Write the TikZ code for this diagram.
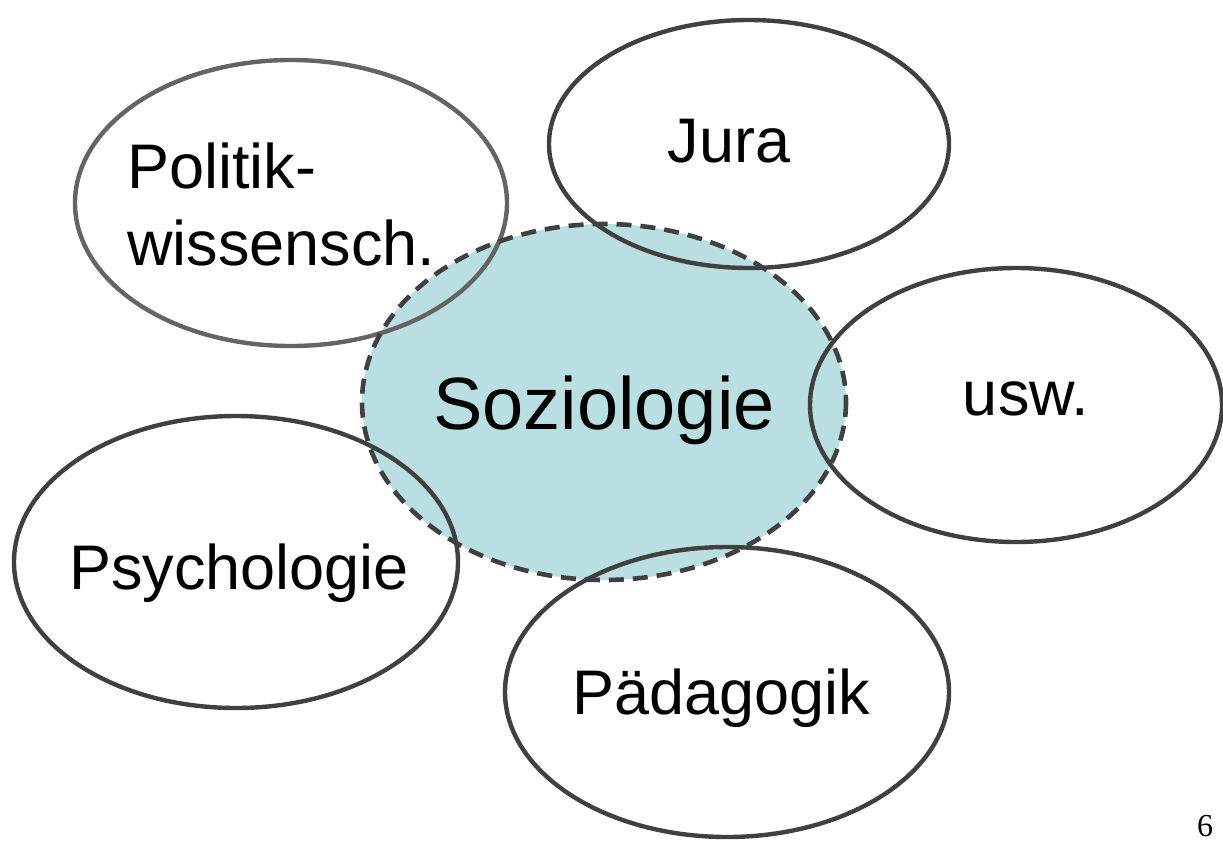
\documentclass[tikz,border=0pt]{standalone}
\usepackage{fontspec}
\setmainfont{Liberation Sans}
\newfontfamily\numfont{Liberation Serif}
\definecolor{soziofill}{HTML}{BADFE3}
\definecolor{edgedark}{HTML}{404040}
\definecolor{edgegray}{HTML}{646464}
\tikzset{
  field/.style={draw=edgedark, line width=4.4pt},
  fieldgray/.style={draw=edgegray, line width=4.4pt},
  center/.style={draw=edgedark, line width=4.6pt, dash pattern=on 15pt off 9pt},
  lbl/.style={inner sep=0pt, font=\fontsize{63}{77}\selectfont},
  biglbl/.style={inner sep=0pt, font=\fontsize{74}{88}\selectfont}
}
\begin{document}
\begin{tikzpicture}[x=1pt,y=-1pt]
\useasboundingbox (0,0) rectangle (1223,841);
% central fill
\fill[soziofill] (604,402) ellipse [x radius=242, y radius=178];
% outer fields
\draw[fieldgray] (291,203) ellipse [x radius=216, y radius=143];
\draw[field] (749,144) ellipse [x radius=200, y radius=124];
\draw[field] (1016,405) ellipse [x radius=206, y radius=137];
\draw[field] (236,562) ellipse [x radius=222, y radius=146];
\draw[field] (727,692) ellipse [x radius=222, y radius=145];
% central dashed outline
\draw[center] (604,402) ellipse [x radius=242, y radius=178];
% labels
\node[lbl, anchor=base west] (pol1) at (127,188) {Politik-};
\node[lbl, anchor=base west] (pol2) at (127,265) {wissensch.};
\node[lbl, anchor=base] (jura) at (729,162) {Jura};
\node[biglbl, anchor=base] (sozio) at (604,429) {Soziologie};
\node[lbl, anchor=base] (usw) at (1026,415) {usw.};
\node[lbl, anchor=base] (psych) at (239,589) {Psychologie};
\node[lbl, anchor=base] (paed) at (721,714) {Pädagogik};
\node[inner sep=0pt, font=\numfont\fontsize{32}{36}\selectfont, anchor=base] (page) at (1205,836) {6};
\end{tikzpicture}
\end{document}
